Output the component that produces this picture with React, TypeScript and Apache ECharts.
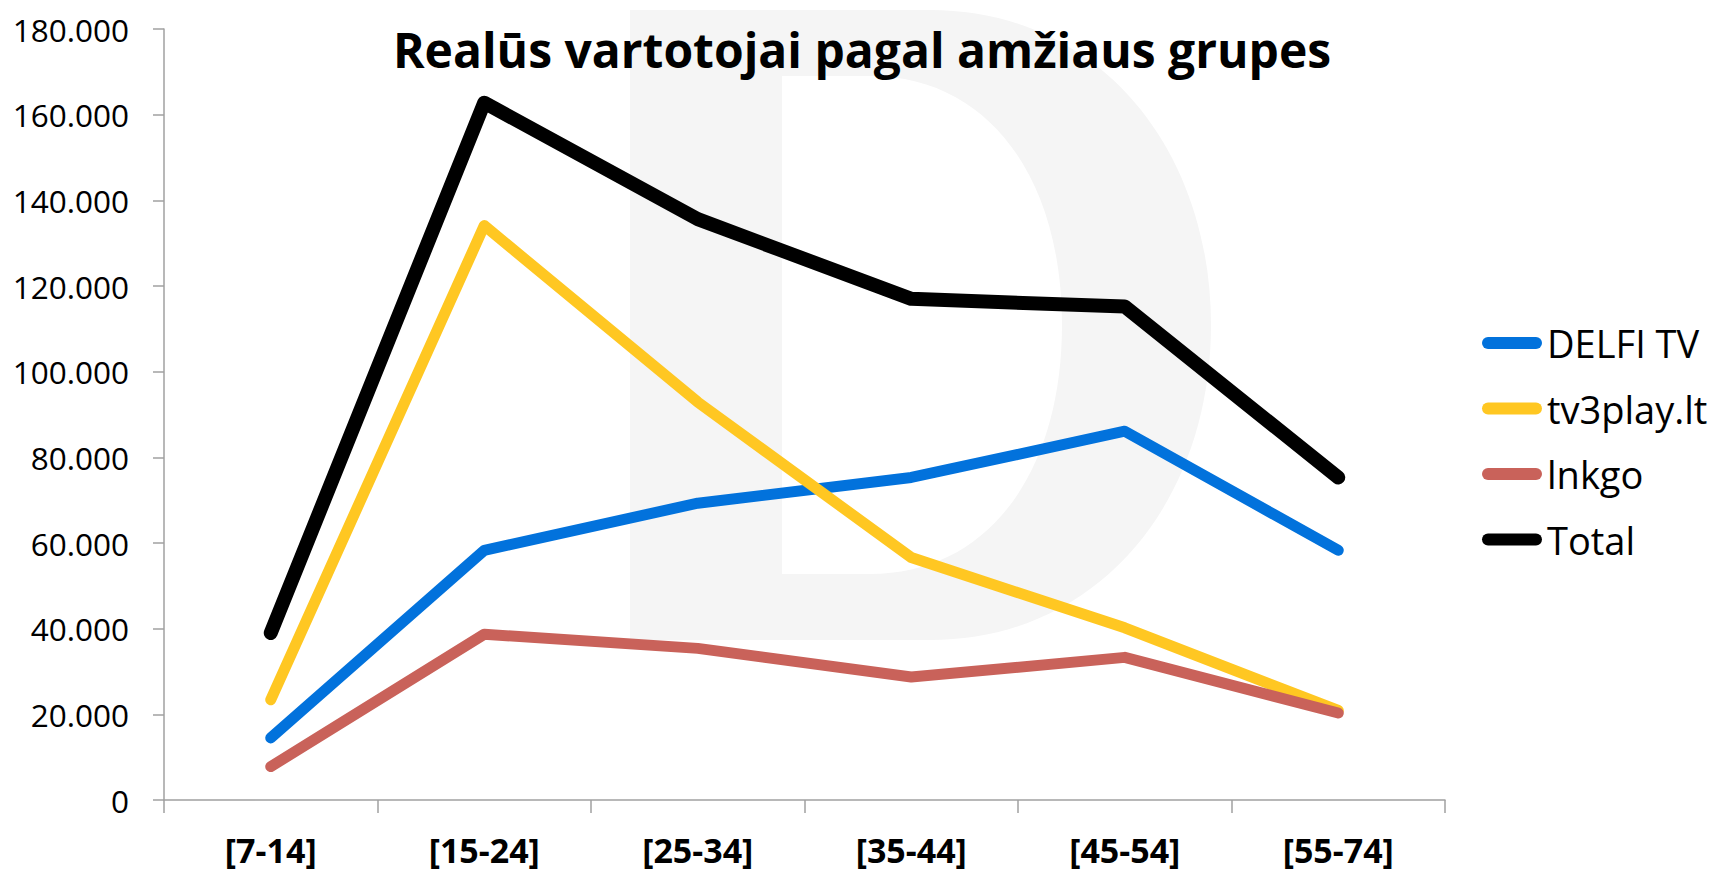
import React, { useEffect, useRef } from "react";
import * as echarts from "echarts";

const categories = ["[7-14]", "[15-24]", "[25-34]", "[35-44]", "[45-54]", "[55-74]"];
const delfiTv = [14500, 58300, 69300, 75300, 86100, 58300];
const tv3play = [23400, 134100, 92900, 56600, 40200, 20900];
const lnkgo = [7800, 38700, 35400, 28700, 33300, 20300];
const total = [39000, 162800, 135600, 117000, 115200, 75300];
const seriesNames = ["DELFI TV", "tv3play.lt", "lnkgo", "Total"];
const seriesColors = ["#0272dc", "#ffc722", "#c9625a", "#000000"];
const titleText = "Realūs vartotojai pagal amžiaus grupes";

const watermarkPath =
  "M630,10 L930,10 C1100,10 1211,150 1211,325 C1211,500 1100,640 930,640 L630,640 Z " +
  "M782,76 L782,574 L870,574 C990,574 1062,470 1062,325 C1062,180 990,76 870,76 Z";

let registered = false;

function fmt(v: number): string {
  if (v === 0) return "0";
  const s = String(Math.round(v));
  return s.replace(/\B(?=(\d{3})+(?!\d))/g, ".");
}

export default function App() {
  const ref = useRef<HTMLDivElement>(null);
  useEffect(() => {
    if (!ref.current) return;
    if (!registered) {
      echarts.graphic.registerShape("logo", echarts.graphic.extendPath(watermarkPath, {}));
      registered = true;
    }
    const chart = echarts.init(ref.current, undefined, { renderer: "svg" });
    const data = [delfiTv, tv3play, lnkgo, total];
    const pill = "path://M6,0 L54,0 A6,6 0 0 1 54,12 L6,12 A6,6 0 0 1 6,0 Z";
    chart.setOption({
      animation: false,
      backgroundColor: "#ffffff",
      graphic: [
        {
          type: "logo",
          x: 0,
          y: 0,
          z: -10,
          silent: true,
          style: { fill: "#f5f5f5" },
        },
        {
          type: "text",
          x: 862,
          y: 49,
          z: 10,
          style: {
            text: titleText,
            fill: "#000",
            font: "bold 48px 'Open Sans'",
            textAlign: "center",
            textVerticalAlign: "middle",
          },
        },
      ],
      grid: { left: 164, right: 264, top: 29, bottom: 74, containLabel: false },
      legend: {
        orient: "vertical",
        left: 1477,
        top: 316,
        itemWidth: 60,
        itemHeight: 12,
        itemGap: 21.5,
        data: seriesNames.map((n) => ({ name: n, icon: pill })),
        textStyle: {
          fontFamily: "Open Sans",
          fontSize: 38,
          color: "#000",
          lineHeight: 44,
        },
      },
      xAxis: {
        type: "category",
        data: categories,
        boundaryGap: true,
        axisLine: { show: true, lineStyle: { color: "#a0a0a0", width: 1.5 } },
        axisTick: { show: true, length: 13, lineStyle: { color: "#a0a0a0", width: 1.5 } },
        axisLabel: {
          margin: 33,
          fontFamily: "Open Sans",
          fontWeight: "bold",
          fontSize: 34,
          lineHeight: 34,
          color: "#000",
        },
        splitLine: { show: false },
      },
      yAxis: {
        type: "value",
        min: 0,
        max: 180000,
        interval: 20000,
        axisLine: { show: true, lineStyle: { color: "#a0a0a0", width: 1.5 } },
        axisTick: { show: true, length: 11, lineStyle: { color: "#a0a0a0", width: 1.5 } },
        axisLabel: {
          margin: 35,
          fontFamily: "Open Sans",
          fontSize: 31.5,
          color: "#000",
          formatter: (v: number) => fmt(v),
        },
        splitLine: { show: false },
      },
      series: seriesNames.map((name, i) => ({
        name,
        type: "line",
        data: data[i],
        color: seriesColors[i],
        symbol: "none",
        showSymbol: false,
        itemStyle: { color: seriesColors[i] },
        lineStyle: {
          color: seriesColors[i],
          width: i === 3 ? 14 : 11,
          cap: "round",
          join: "round",
        },
        z: 2 + i,
      })),
    });
    return () => chart.dispose();
  }, []);
  return (
    <div
      ref={ref}
      style={{ position: "absolute", left: 0, top: 0, width: 1709, height: 874 }}
    />
  );
}
